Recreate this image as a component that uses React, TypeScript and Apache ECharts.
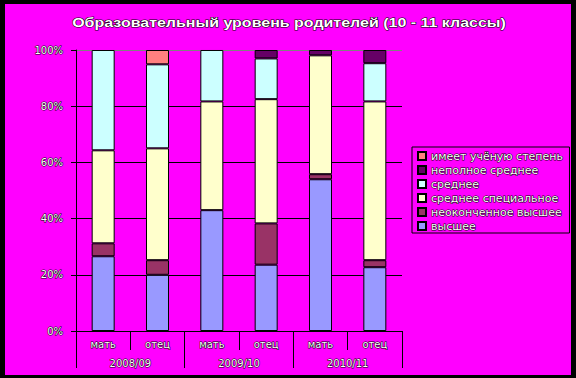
import React, { useEffect, useRef } from "react";
import * as echarts from "echarts";

const titleText = "Образовательный уровень родителей (10 - 11 классы)";
const categories = ["мать", "отец", "мать", "отец", "мать", "отец"];
const years = ["2008/09", "2009/10", "2010/11"];
const seriesNames = [
  "высшее",
  "неоконченное высшее",
  "среднее специальное",
  "среднее",
  "неполное среднее",
  "имеет учёную степень",
];
const vysshee = [26.6, 20.0, 43.0, 23.6, 54.0, 22.7];
const neokonchennoe = [4.6, 5.2, 0, 14.7, 1.8, 2.5];
const sredneeSpec = [33.1, 39.8, 38.7, 44.2, 42.3, 56.5];
const srednee = [35.7, 29.9, 18.3, 14.5, 0, 13.6];
const nepolnoe = [0, 0, 0, 3.0, 1.9, 4.7];
const stepen = [0, 5.1, 0, 0, 0, 0];
const seriesValues = [vysshee, neokonchennoe, sredneeSpec, srednee, nepolnoe, stepen];
const colors = ["#9999FF", "#993366", "#FFFFCC", "#CCFFFF", "#660066", "#FF8080"];
const yTicks = [0, 20, 40, 60, 80, 100];

const FONT = '"DejaVu Sans", sans-serif';
const txt = {
  color: "#ffffff",
  textBorderColor: "#000000",
  textBorderWidth: 1,
  fontFamily: FONT,
  fontSize: 10,
};

export default function App() {
  const ref = useRef<HTMLDivElement>(null);
  useEffect(() => {
    if (!ref.current) return;
    const chart = echarts.init(ref.current, null, { renderer: "svg" });
    const titleFont = 'bold 13px "Liberation Sans", Arial, sans-serif';
    let scaleX = 1;
    try {
      const c = document.createElement("canvas").getContext("2d");
      if (c) {
        c.font = titleFont;
        const w = c.measureText(titleText).width;
        if (w > 0) scaleX = 434 / w;
      }
    } catch (e) {}
    const option: any = {
      animation: false,
      graphic: [
        {
          type: "text",
          x: 289,
          y: 23,
          scaleX,
          style: {
            text: titleText,
            font: titleFont,
            fill: "#ffffff",
            stroke: "#000000",
            lineWidth: 1,
            align: "center",
            verticalAlign: "middle",
          },
        },
      ],
      grid: { left: 76, right: 174, top: 50, bottom: 47, containLabel: false },
      legend: {
        orient: "vertical",
        left: 412,
        top: 147,
        padding: [3, 6, 1, 5],
        itemWidth: 8,
        itemHeight: 8,
        itemGap: 2,
        borderColor: "#000",
        borderWidth: 1,
        icon: "rect",
        data: seriesNames.slice().reverse(),
        textStyle: { ...txt, fontSize: 11 },
      },
      xAxis: [
        {
          type: "category",
          data: categories,
          position: "bottom",
          axisLine: { lineStyle: { color: "#000", width: 1 } },
          axisTick: { show: true, length: 19, lineStyle: { color: "#000" } },
          axisLabel: { ...txt, margin: 8, interval: 0 },
        },
        {
          type: "category",
          data: years,
          position: "bottom",
          axisLine: { show: false },
          axisTick: { show: true, length: 37, lineStyle: { color: "#000" } },
          axisLabel: { ...txt, margin: 27, interval: 0 },
        },
      ],
      yAxis: {
        type: "value",
        min: yTicks[0],
        max: yTicks[yTicks.length - 1],
        interval: 20,
        axisLine: { show: true, lineStyle: { color: "#000" } },
        axisTick: { show: true, length: 5, lineStyle: { color: "#000" } },
        axisLabel: { ...txt, margin: 13, formatter: "{value}%" },
        splitLine: {
          show: true,
          lineStyle: { color: ["#000", "#000", "#000", "#000", "#000", "#808080"], width: 1 },
        },
      },
      series: seriesNames.map((name, i) => ({
        name,
        type: "bar",
        stack: "total",
        xAxisIndex: 0,
        barWidth: 23,
        itemStyle: { color: colors[i], borderColor: "#000", borderWidth: 1 },
        data: seriesValues[i].map((v) => (v === 0 ? null : v)),
      })),
    };
    chart.setOption(option);
    return () => chart.dispose();
  }, []);
  return (
    <div style={{ position: "fixed", left: 0, top: 0, width: 576, height: 378, background: "#000" }}>
      <div style={{ position: "absolute", left: 5, top: 4, width: 566, height: 371, background: "#FF00FF" }} />
      <div ref={ref} style={{ position: "absolute", left: 0, top: 0, width: 576, height: 378 }} />
    </div>
  );
}
